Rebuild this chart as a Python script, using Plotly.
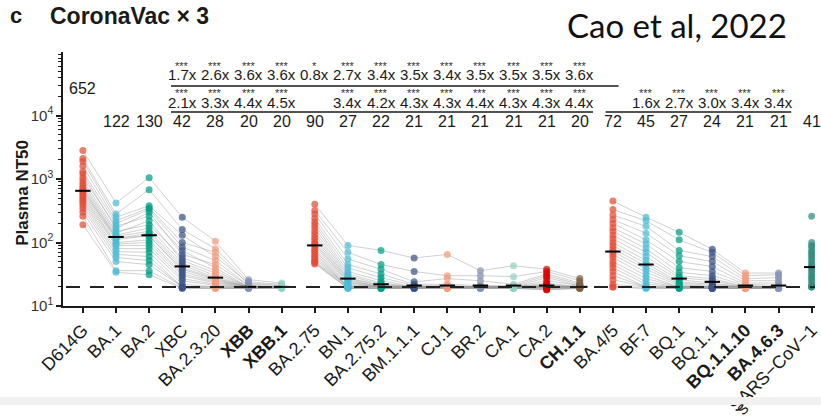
import plotly.graph_objects as go

# Variants tested, in plotting order
categories = ["D614G", "BA.1", "BA.2", "XBC", "BA.2.3.20", "XBB", "XBB.1",
              "BA.2.75", "BN.1", "BA.2.75.2", "BM.1.1.1", "CJ.1", "BR.2", "CA.1",
              "CA.2", "CH.1.1", "BA.4/5", "BF.7", "BQ.1", "BQ.1.1", "BQ.1.1.10",
              "BA.4.6.3", "SARS−CoV−1"]
bold_variants = ["XBB", "XBB.1", "CH.1.1", "BQ.1.1.10", "BA.4.6.3"]

# Geometric mean titres printed above each column
gmt_labels = [652, 122, 130, 42, 28, 20, 20, 90, 27, 22, 21, 21, 21, 21, 21,
              20, 72, 45, 27, 24, 21, 21, 41]

# Fold reductions vs BA.4/5 (upper row) and vs BA.2.75 (lower row)
fold_vs_ba45_cats = ["XBC", "BA.2.3.20", "XBB", "XBB.1", "BA.2.75", "BN.1", "BA.2.75.2",
                     "BM.1.1.1", "CJ.1", "BR.2", "CA.1", "CA.2", "CH.1.1"]
fold_vs_ba45 = [1.7, 2.6, 3.6, 3.6, 0.8, 2.7, 3.4, 3.5, 3.4, 3.5, 3.5, 3.5, 3.6]
sig_vs_ba45 = ["***", "***", "***", "***", "*", "***", "***", "***", "***", "***",
               "***", "***", "***"]
fold_vs_ba275_cats = ["XBC", "BA.2.3.20", "XBB", "XBB.1", "BN.1", "BA.2.75.2",
                      "BM.1.1.1", "CJ.1", "BR.2", "CA.1", "CA.2", "CH.1.1"]
fold_vs_ba275 = [2.1, 3.3, 4.4, 4.5, 3.4, 4.2, 4.3, 4.3, 4.4, 4.3, 4.3, 4.4]
fold_ba45_lineage_cats = ["BF.7", "BQ.1", "BQ.1.1", "BQ.1.1.10", "BA.4.6.3"]
fold_ba45_lineage = [1.6, 2.7, 3.0, 3.4, 3.4]

detection_limit = 20

# Plasma NT50 per participant (same participant order within each list)
d614g = [2800, 2100, 1900, 1600, 1300, 1200, 1050, 950, 850, 780, 720, 680,
         640, 600, 560, 520, 480, 450, 420, 380, 340, 300, 260, 190]
ba1 = [420, 280, 250, 220, 200, 165, 180, 150, 140, 130, 125, 115,
       120, 110, 100, 95, 90, 80, 72, 65, 58, 50, 36, 34]
ba2 = [1050, 680, 380, 350, 330, 300, 260, 190, 220, 170, 150, 140,
       125, 130, 110, 100, 90, 80, 70, 60, 52, 45, 36, 31]
xbc = [250, 160, 130, 100, 85, 65, 75, 58, 52, 48, 44, 40,
       38, 35, 32, 30, 27, 25, 22, 20, 20, 20, 19, 19]
ba2320 = [105, 80, 60, 70, 52, 45, 40, 36, 33, 30, 28, 27,
          26, 25, 24, 23, 22, 21, 20, 20, 20, 19, 19, 19]
xbb = [26, 24, 23, 22, 21, 21, 20, 20, 20, 20, 20, 20,
       20, 20, 20, 20, 20, 20, 20, 20, 19, 19, 19, 19]
xbb1 = [23, 22, 21, 21, 20, 20, 20, 20, 20, 20, 20, 20,
        20, 20, 20, 20, 20, 20, 20, 20, 19, 20, 19, 19]

ba275 = [400, 320, 280, 240, 210, 190, 170, 150, 135, 120, 110, 100,
         95, 88, 80, 75, 70, 65, 60, 56, 52, 50, 48, 46]
bn1 = [90, 70, 55, 45, 40, 35, 32, 30, 28, 27, 26, 25,
       24, 23, 22, 21, 20, 20, 20, 20, 20, 19, 19, 19]
ba2752 = [75, 45, 38, 32, 28, 25, 23, 22, 21, 21, 20, 20,
          20, 20, 20, 20, 20, 20, 20, 20, 19, 19, 19, 19]
bm1111 = [57, 35, 24, 22, 21, 20, 20, 20, 20, 20, 20, 20,
          20, 20, 20, 20, 20, 20, 20, 19, 19, 19, 19, 19]
cj1 = [65, 30, 27, 22, 21, 20, 20, 20, 20, 20, 20, 20,
       20, 20, 20, 20, 20, 20, 20, 20, 19, 19, 19, 19]
br2 = [36, 30, 25, 21, 20, 20, 20, 20, 20, 20, 20, 20,
       20, 20, 20, 20, 20, 20, 20, 20, 19, 19, 19, 19]
ca1 = [43, 29, 22, 21, 20, 20, 20, 20, 20, 20, 20, 20,
       20, 20, 20, 20, 20, 20, 20, 20, 19, 19, 19, 19]
ca2 = [38, 35, 32, 30, 28, 25, 23, 22, 21, 21, 20, 20,
       20, 20, 20, 20, 20, 20, 20, 19, 19, 19, 18, 18]
ch11 = [27, 25, 23, 22, 21, 21, 20, 20, 20, 20, 20, 20,
        20, 20, 20, 20, 20, 20, 20, 20, 19, 19, 19, 19]

ba45 = [450, 330, 270, 230, 200, 170, 150, 130, 115, 100, 90, 80,
        72, 65, 58, 50, 45, 40, 35, 30, 26, 22, 20, 20]
bf7 = [250, 220, 180, 140, 110, 95, 80, 70, 60, 52, 46, 42,
       38, 34, 30, 27, 24, 22, 20, 20, 20, 20, 19, 19]
bq1 = [145, 110, 75, 62, 50, 40, 34, 30, 28, 26, 24, 23,
       22, 21, 20, 20, 20, 20, 20, 20, 20, 19, 19, 19]
bq11 = [78, 70, 60, 50, 42, 35, 30, 27, 25, 23, 22, 21,
        20, 20, 20, 20, 20, 20, 20, 19, 19, 19, 19, 19]
bq1110 = [33, 30, 27, 25, 23, 22, 21, 20, 20, 20, 20, 20,
          20, 20, 20, 20, 20, 20, 20, 19, 19, 19, 19, 19]
ba463 = [33, 31, 28, 25, 23, 21, 20, 20, 20, 20, 20, 20,
         20, 20, 20, 20, 20, 20, 20, 19, 19, 19, 19, 19]

sars1 = [260, 100, 90, 85, 75, 70, 65, 60, 55, 50, 46, 43,
         40, 37, 34, 31, 29, 27, 25, 23, 21, 20, 20, 20]

series = [d614g, ba1, ba2, xbc, ba2320, xbb, xbb1,
          ba275, bn1, ba2752, bm1111, cj1, br2, ca1, ca2, ch11,
          ba45, bf7, bq1, bq11, bq1110, ba463, sars1]

# Columns joined by per-participant lines
groups = [(0, 7), (7, 16), (16, 22)]

npg = ["#E64B35", "#4DBBD5", "#00A087", "#3C5488", "#F39B7F", "#8491B4",
       "#91D1C2", "#DC0000", "#7E6148"]
colors = (npg[:7] + npg[:9] + npg[:6] + ["#2F8C78"])

font_family = "Liberation Sans, Arial, Helvetica, sans-serif"
ink = "#1a1a1a"

fig = go.Figure()

# grey lines linking each participant across variants within a panel group
for start, stop in groups:
    xs, ys = [], []
    n = len(series[start])
    for i in range(n):
        for k in range(start, stop):
            xs.append(categories[k])
            ys.append(series[k][i])
        xs.append(None)
        ys.append(None)
    fig.add_trace(go.Scatter(
        x=xs, y=ys, mode="lines", connectgaps=False,
        line=dict(color="rgba(150,150,150,0.45)", width=1),
        hoverinfo="skip", showlegend=False))

# individual titres
for cat, vals, col in zip(categories, series, colors):
    fig.add_trace(go.Scatter(
        x=[cat] * len(vals), y=vals, mode="markers",
        marker=dict(color=col, size=7, opacity=0.72, line=dict(width=0)),
        showlegend=False, name=cat))

# geometric mean bars
fig.add_trace(go.Scatter(
    x=categories, y=gmt_labels, mode="markers",
    marker=dict(symbol="line-ew", size=11, color="black",
                line=dict(width=2, color="black")),
    showlegend=False, hoverinfo="skip"))

annotations = []
txt_font = dict(family=font_family, size=15, color=ink)
star_font = dict(family=font_family, size=11, color="#333333")

# GMT numbers
for cat, g in zip(categories, gmt_labels):
    annotations.append(dict(
        x=cat, y=4.42 if cat == "D614G" else 3.90, xref="x", yref="y",
        text=str(g), showarrow=False, font=dict(family=font_family, size=16, color=ink)))

# fold rows with significance marks
def fold_row(cats, folds, sigs, y_num, y_star):
    for c, f, s in zip(cats, folds, sigs):
        annotations.append(dict(x=c, y=y_num, xref="x", yref="y",
                                text=f"{f:.1f}x", showarrow=False, font=txt_font))
        annotations.append(dict(x=c, y=y_star, xref="x", yref="y",
                                text=s, showarrow=False, font=star_font))

fold_row(fold_vs_ba45_cats, fold_vs_ba45, sig_vs_ba45, 4.64, 4.78)
fold_row(fold_vs_ba275_cats, fold_vs_ba275, ["***"] * len(fold_vs_ba275), 4.21, 4.35)
fold_row(fold_ba45_lineage_cats, fold_ba45_lineage, ["***"] * len(fold_ba45_lineage), 4.21, 4.35)

# headings and axis title
annotations += [
    dict(x=-0.0726, y=1.142, xref="paper", yref="paper", xanchor="left", yanchor="middle",
         text="<b>c</b>", showarrow=False, font=dict(family=font_family, size=22, color=ink)),
    dict(x=-0.0198, y=1.142, xref="paper", yref="paper", xanchor="left", yanchor="middle",
         text="<b>CoronaVac × 3</b>", showarrow=False,
         font=dict(family=font_family, size=23, color=ink)),
    dict(x=0.966, y=1.106, xref="paper", yref="paper", xanchor="right", yanchor="middle",
         text="Cao et al, 2022", showarrow=False,
         font=dict(family="Lato, sans-serif", size=33, color="#111111")),
    dict(x=-0.054, y=0.447, xref="paper", yref="paper", xanchor="center", yanchor="middle",
         text="<b>Plasma NT50</b>", textangle=-90, showarrow=False,
         font=dict(family=font_family, size=17, color=ink)),
    # stray glyph of the next panel's label, below the strip
    dict(x=0.904, y=-0.405, xref="paper", yref="paper", xanchor="center", yanchor="middle",
         text="S", textangle=-45, showarrow=False,
         font=dict(family=font_family, size=14, color=ink)),
]

# shapes on the log axis take plain data values
shapes = [
    # limit of detection
    dict(type="line", xref="paper", yref="y", x0=0.004, x1=1,
         y0=detection_limit, y1=detection_limit,
         line=dict(color="#222222", width=2, dash="14px,10px"), layer="above"),
    # comparison brackets
    dict(type="line", xref="x", yref="y", x0=2.66, x1=16.17,
         y0=10 ** 4.465, y1=10 ** 4.465, line=dict(color=ink, width=1.5)),
    dict(type="line", xref="x", yref="y", x0=2.66, x1=15.4,
         y0=10 ** 4.055, y1=10 ** 4.055, line=dict(color=ink, width=1.5)),
    dict(type="line", xref="x", yref="y", x0=15.78, x1=21.38,
         y0=10 ** 4.055, y1=10 ** 4.055, line=dict(color=ink, width=1.5)),
    # light strip along the bottom
    dict(type="rect", xref="paper", yref="paper", x0=-0.09, x1=1.01,
         y0=-0.39, y1=-0.358, fillcolor="#f1f1f1", line=dict(width=0), layer="above"),
]

ticktext = [f"<b>{c}</b>" if c in bold_variants else c for c in categories]
minor_vals = [m * 10 ** d for d in range(1, 5) for m in range(2, 10)]

fig.update_layout(
    width=821, height=419,
    margin=dict(l=63, r=0, t=52, b=113),
    paper_bgcolor="white", plot_bgcolor="white",
    font=dict(family=font_family, color=ink),
    annotations=annotations, shapes=shapes,
    showlegend=False,
    xaxis=dict(
        type="category", categoryorder="array", categoryarray=categories,
        range=[-0.6, 22.1], tickmode="array", tickvals=categories, ticktext=ticktext,
        tickangle=-45, ticks="outside", ticklen=5, tickwidth=1.5, tickcolor=ink,
        showline=True, linecolor=ink, linewidth=1.5, showgrid=False, zeroline=False,
        tickfont=dict(family=font_family, size=18, color=ink),
    ),
    yaxis=dict(
        type="log", range=[1, 5],
        tickmode="array", tickvals=[10, 100, 1000, 10000],
        ticktext=["10<sup>1</sup>", "10<sup>2</sup>", "10<sup>3</sup>", "10<sup>4</sup>"],
        ticks="outside", ticklen=5, tickwidth=1.5, tickcolor=ink,
        minor=dict(tickmode="array", tickvals=minor_vals, ticks="outside",
                   ticklen=3, tickwidth=1, tickcolor=ink, showgrid=False),
        showline=True, linecolor=ink, linewidth=1.5, showgrid=False, zeroline=False,
        tickfont=dict(family=font_family, size=15, color="#333333"),
    ),
)

fig.write_html("out.html")
